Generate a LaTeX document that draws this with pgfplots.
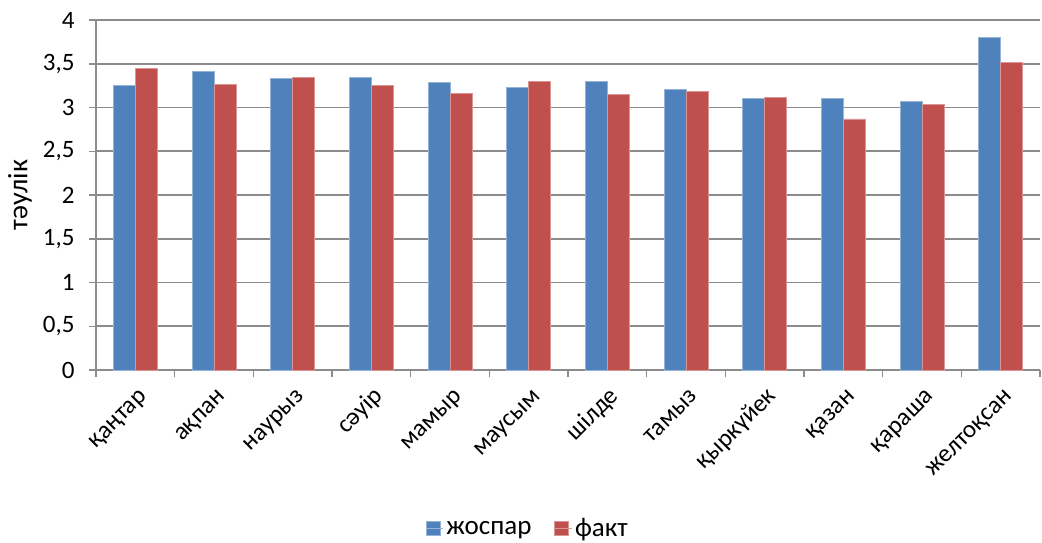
\documentclass[border=0pt]{standalone}
\usepackage{pgfplots}
\pgfplotsset{compat=1.18}
\usepackage{fontspec}
\setmainfont{Carlito}
\definecolor{cblue}{HTML}{4F81BD}
\definecolor{cred}{HTML}{C0504D}
\definecolor{cgrid}{HTML}{8C8C8C}
\begin{document}
\begin{tikzpicture}[x=1pt,y=1pt]
\useasboundingbox (0,0) rectangle (1042,542);
\begin{axis}[
  at={(96pt,172pt)}, anchor=south west,
  scale only axis, width=944pt, height=350pt,
  ybar=0pt, bar width=22pt,
  xmin=-0.5, xmax=11.5, ymin=0, ymax=4,
  axis x line=bottom, axis y line=left,
  axis line style={cgrid, line width=1.8pt, -},
  ytick={0,0.5,...,4},
  every tick label/.append style={font=\fontsize{25}{28}\selectfont},
  yticklabel style={/pgf/number format/use comma,/pgf/number format/fixed, xshift=-11pt},
  /pgf/number format/assume math mode=true,
  ymajorgrids, grid style={cgrid, line width=1.8pt},
  y tick style={cgrid, line width=1.5pt},
  major tick length=7pt,
  tick align=outside,
  xtick={-0.5,0.5,...,11.5}, xticklabels={},
  x tick style={cgrid, line width=1.5pt},
  extra x ticks={0,1,...,11},
  extra x tick labels={қаңтар,ақпан,наурыз,сәуір,мамыр,маусым,шілде,тамыз,қыркүйек,қазан,қараша,желтоқсан},
  extra x tick style={major tick length=0pt, grid=none,
    tick label style={xshift=9pt, yshift=-19pt, rotate=45, anchor=north east, text height=1ex, font=\fontsize{25}{28}\selectfont}},
  ylabel={тәулік},
  every axis y label/.style={at={(-76pt,175pt)}, rotate=90, anchor=center, font=\fontsize{28}{30}\selectfont},
  legend style={at={(0.458,-0.452)}, anchor=center, draw=none, legend columns=2,
    font=\fontsize{27}{29}\selectfont, nodes={inner xsep=3pt},
    /tikz/every even column/.append style={column sep=20pt}},
  legend image code/.code={\fill[#1] (0pt,-7pt) rectangle (14pt,7pt); \path (0pt,0pt) -- (17pt,0pt);},
]
\addplot[fill=cblue, draw=cblue!60!white, line width=0.6pt] coordinates {
(0,3.25) (1,3.41) (2,3.33) (3,3.34) (4,3.29) (5,3.23) (6,3.30) (7,3.21) (8,3.10) (9,3.10) (10,3.07) (11,3.80)};
\addplot[fill=cred, draw=cred!60!white, line width=0.6pt] coordinates {
(0,3.45) (1,3.26) (2,3.34) (3,3.25) (4,3.16) (5,3.30) (6,3.15) (7,3.18) (8,3.12) (9,2.87) (10,3.04) (11,3.52)};
\legend{жоспар,факт}
\end{axis}
\end{tikzpicture}
\end{document}
